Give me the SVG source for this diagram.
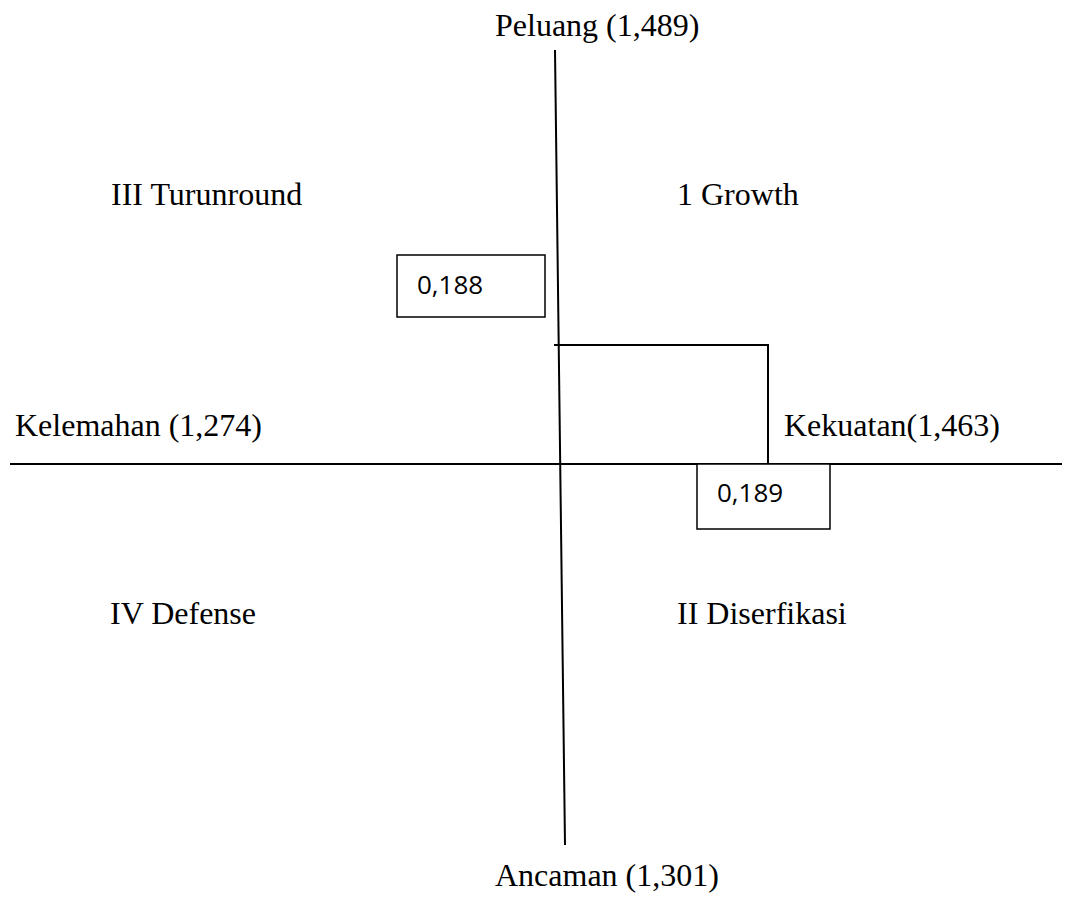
<svg xmlns="http://www.w3.org/2000/svg" width="1065" height="903" viewBox="0 0 1065 903">
<style>
.t{font-family:"Liberation Serif","Times New Roman",serif;font-size:32px;fill:#000}
.v{font-family:"Open Sans","Liberation Sans",sans-serif;font-size:26px;fill:#000}
.ln{stroke:#000;stroke-width:2;fill:none}
.bx{stroke:#000;stroke-width:1.5;fill:#fff}
</style>
<rect width="1065" height="903" fill="#fff"/>
<g id="connectors">
<line class="ln" x1="555" y1="50" x2="565" y2="845"/>
<line class="ln" x1="10" y1="464" x2="1062" y2="464"/>
<polyline class="ln" points="554,345 768,345 768,464"/>
</g>
<g id="labels">
<text class="t" x="495" y="36">Peluang (1,489)</text>
<text class="t" x="111" y="205">III Turunround</text>
<text class="t" x="677" y="205">1 Growth</text>
<text class="t" x="15" y="436">Kelemahan (1,274)</text>
<text class="t" x="784" y="436">Kekuatan(1,463)</text>
<text class="t" x="110" y="624">IV Defense</text>
<text class="t" x="677" y="624">II Diserfikasi</text>
<text class="t" x="495" y="886">Ancaman (1,301)</text>
</g>
<g id="box188">
<rect class="bx" x="397" y="255" width="148" height="62"/>
<text class="v" x="417" y="294">0,188</text>
</g>
<g id="box189">
<rect class="bx" x="697" y="464" width="133" height="65"/>
<text class="v" x="717" y="502">0,189</text>
</g>
</svg>
